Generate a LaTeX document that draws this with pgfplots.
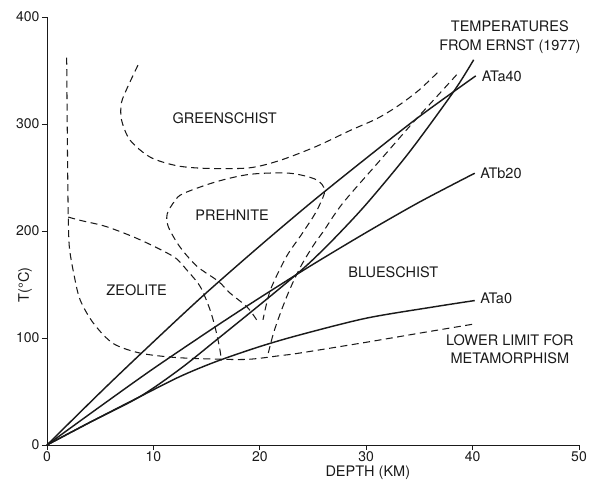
\documentclass[border=0pt]{standalone}
\usepackage{fontspec}
\setmainfont{TeX Gyre Heros}
\usepackage{pgfplots}
\pgfplotsset{compat=1.18}
\definecolor{ink}{HTML}{1A1A1A}
\begin{document}
\begin{tikzpicture}
\begin{axis}[
  name=ax,
  scale only axis,
  width=532pt, height=428pt,
  xmin=0, xmax=50, ymin=0, ymax=400,
  axis lines=left,
  axis line style={-, line width=0.8pt, ink},
  xtick={0,10,20,30,40,50},
  ytick={0,100,200,300,400},
  tick align=outside,
  major tick length=5pt,
  tick style={line width=0.8pt, ink},
  /pgf/number format/assume math mode=true,
  ticklabel style={font=\fontsize{14}{14}\selectfont, text=ink},
  xticklabel style={yshift=2pt},
  yticklabel style={xshift=1pt},
  xlabel={DEPTH (KM)},
  ylabel={T(°C)},
  xlabel style={at={(axis description cs:0.603,-0.0647)}, anchor=center, font=\fontsize{14.5}{14.5}\selectfont, text=ink},
  ylabel style={at={(axis description cs:-0.0414,0.374)}, anchor=center, font=\fontsize{14.5}{14.5}\selectfont, text=ink},
  clip=false,
  every axis plot/.append style={ink},
]
% solid geotherms
\addplot[line width=1.45pt, smooth] coordinates {(0,0) (5,49) (9,87) (14.5,138) (20,186) (25,228) (30,268) (35,307) (40.3,345)};
\addplot[line width=1.45pt, smooth] coordinates {(0,0) (5,36) (10,71.4) (15.9,111) (20,137.6) (24.7,167) (30,198.6) (35,227) (40.2,254)};
\addplot[line width=1.45pt, smooth] coordinates {(0,0) (4,21) (8.7,45) (12.5,71) (15.9,98) (20,131) (22.8,154) (24.7,170.5) (27,193) (30,225) (34,273) (38.2,330) (40.1,360)};
\addplot[line width=1.45pt, smooth] coordinates {(0,0) (4,21) (8.7,45) (12.5,64) (15.9,78) (20,92) (23.8,103) (30,118.5) (36.3,129) (40.2,135)};
% dashed facies boundaries
\addplot[line width=1.05pt, dash pattern=on 7pt off 4.5pt, smooth] coordinates {(1.85,362) (1.9,300) (1.95,250) (2.0,213) (2.1,185) (2.5,161) (3.1,136) (4.35,114) (6.2,95) (8.7,86) (11.8,82) (15,80.5) (18.8,80) (21.9,83.5) (23.8,86) (30,96) (35,104.5) (40.1,113)};
\addplot[line width=1.05pt, dash pattern=on 7pt off 4.5pt, smooth] coordinates {(2.0,213) (3.1,210) (5.6,204) (8.7,192) (11.9,176) (13.1,164) (14.4,148) (15.3,127) (15.8,110) (16.2,92) (16.4,79)};
\addplot[line width=1.05pt, dash pattern=on 7pt off 4.5pt, smooth] coordinates {(19.7,117) (18.8,129) (17.2,142) (16.1,153) (14.1,167) (12.5,185) (11.4,204) (11.3,216) (12.0,228) (12.8,235) (15.9,246) (19.1,253) (22.8,254) (25.3,248) (26.1,238) (25.6,224) (25.0,213) (23.8,195) (22.5,176) (21.0,145) (20.3,117)};
\addplot[line width=1.05pt, dash pattern=on 7pt off 4.5pt, smooth] coordinates {(8.55,355) (7.6,335) (7.0,320) (7.0,304) (7.8,285) (9.7,269) (12.2,261) (15,258.5) (19,259) (21.9,266) (25.3,279) (28.5,294) (31,305) (33,317) (35,332) (36.9,350)};
\addplot[line width=1.05pt, dash pattern=on 7pt off 4.5pt, smooth] coordinates {(20.8,86) (21.3,105) (22.0,125) (22.8,145) (23.8,166) (25,186) (26,200) (27.8,226) (31.3,266) (34.1,298) (36.3,322) (38.5,346)};
% labels
\begin{scope}[every node/.style={font=\fontsize{14.5}{14.5}\selectfont, text=ink, inner sep=0pt}]
\node at (axis cs:16.7,305.3) {GREENSCHIST};
\node at (axis cs:17.4,215) {PREHNITE};
\node at (axis cs:8.43,144.9) {ZEOLITE};
\node at (axis cs:32.55,161.4) {BLUESCHIST};
\node[anchor=west] at (axis cs:40.7,136.7) {ATa0};
\node[anchor=west] at (axis cs:40.7,254) {ATb20};
\node[anchor=west] at (axis cs:40.85,344.9) {ATa40};
\node at (axis cs:43.5,391.6) {TEMPERATURES};
\node at (axis cs:43.5,372.2) {FROM ERNST (1977)};
\node at (axis cs:43.5,98) {LOWER LIMIT FOR};
\node at (axis cs:43.5,81) {METAMORPHISM};
\end{scope}
\end{axis}
\pgfresetboundingbox
\path[use as bounding box] ([xshift=-47pt,yshift=-35pt]ax.south west) rectangle ([xshift=20pt,yshift=17pt]ax.north east);
\end{tikzpicture}
\end{document}
